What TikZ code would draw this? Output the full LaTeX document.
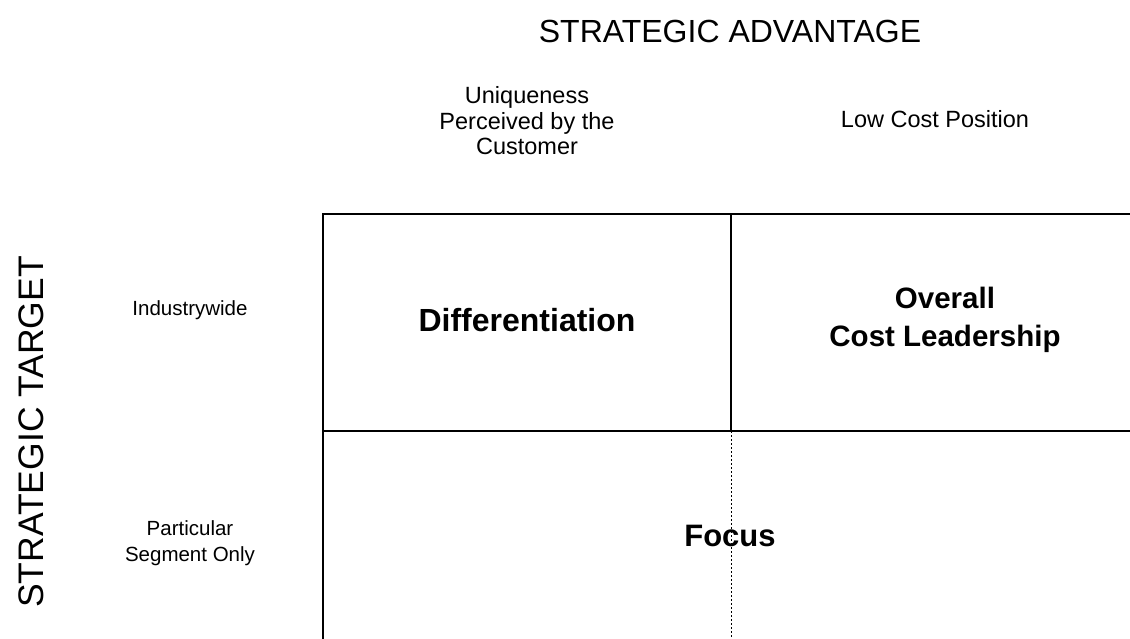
\documentclass[tikz,border=0pt]{standalone}
\usepackage{fontspec}
\setmainfont{Liberation Sans}
\tikzset{
  big/.style={font=\fontsize{32}{36}\selectfont, inner sep=0pt},
  bigv/.style={font=\fontsize{35.5}{40}\selectfont, inner sep=0pt, rotate=90},
  small/.style={font=\fontsize{23.5}{25.5}\selectfont, inner sep=0pt, align=center},
  side/.style={font=\fontsize{20.5}{26}\selectfont, inner sep=0pt, align=center},
  cell/.style={font=\fontsize{31}{38}\selectfont\bfseries, inner sep=0pt, align=center},
  gridline/.style={line width=2pt, black},
  dotline/.style={line width=1pt, black, dash pattern=on 2pt off 2pt}
}
\begin{document}
\begin{tikzpicture}[x=1pt,y=-1pt]
\useasboundingbox (0,0) rectangle (1130,639);
% grid
\coordinate (tl) at (323,214.5);
\coordinate (tr) at (1135,214.5);
\coordinate (bl) at (323,645);
\coordinate (tm) at (731,214.5);
\coordinate (mm) at (731,431);
\coordinate (ml) at (323,431);
\coordinate (mr) at (1135,431);
\coordinate (bm) at (731,645);
\draw[gridline] (bl) -- (tl) -- (tr);
\draw[gridline] (tm) -- (mm);
\draw[gridline] (ml) -- (mr);
\draw[dotline] (mm) -- (bm);
% headings
\node[big] (adv) at (730,31) {STRATEGIC ADVANTAGE};
\node[bigv] (tgt) at (31,432) {STRATEGIC TARGET};
\node[small] (uniq) at (527,121) {Uniqueness\\Perceived by the\\Customer};
\node[small] (low) at (935,119) {Low Cost Position};
\node[side] (ind) at (190,310) {Industrywide};
\node[side] (part) at (190,543) {Particular\\Segment Only};
% cells
\node[cell, font=\fontsize{32}{38}\selectfont\bfseries] (diff) at (527,320) {Differentiation};
\node[cell, font=\fontsize{29.5}{38}\selectfont\bfseries] (cost) at (945,320) {Overall\\Cost Leadership};
\node[cell] (focus) at (730,536) {Focus};
\end{tikzpicture}
\end{document}
